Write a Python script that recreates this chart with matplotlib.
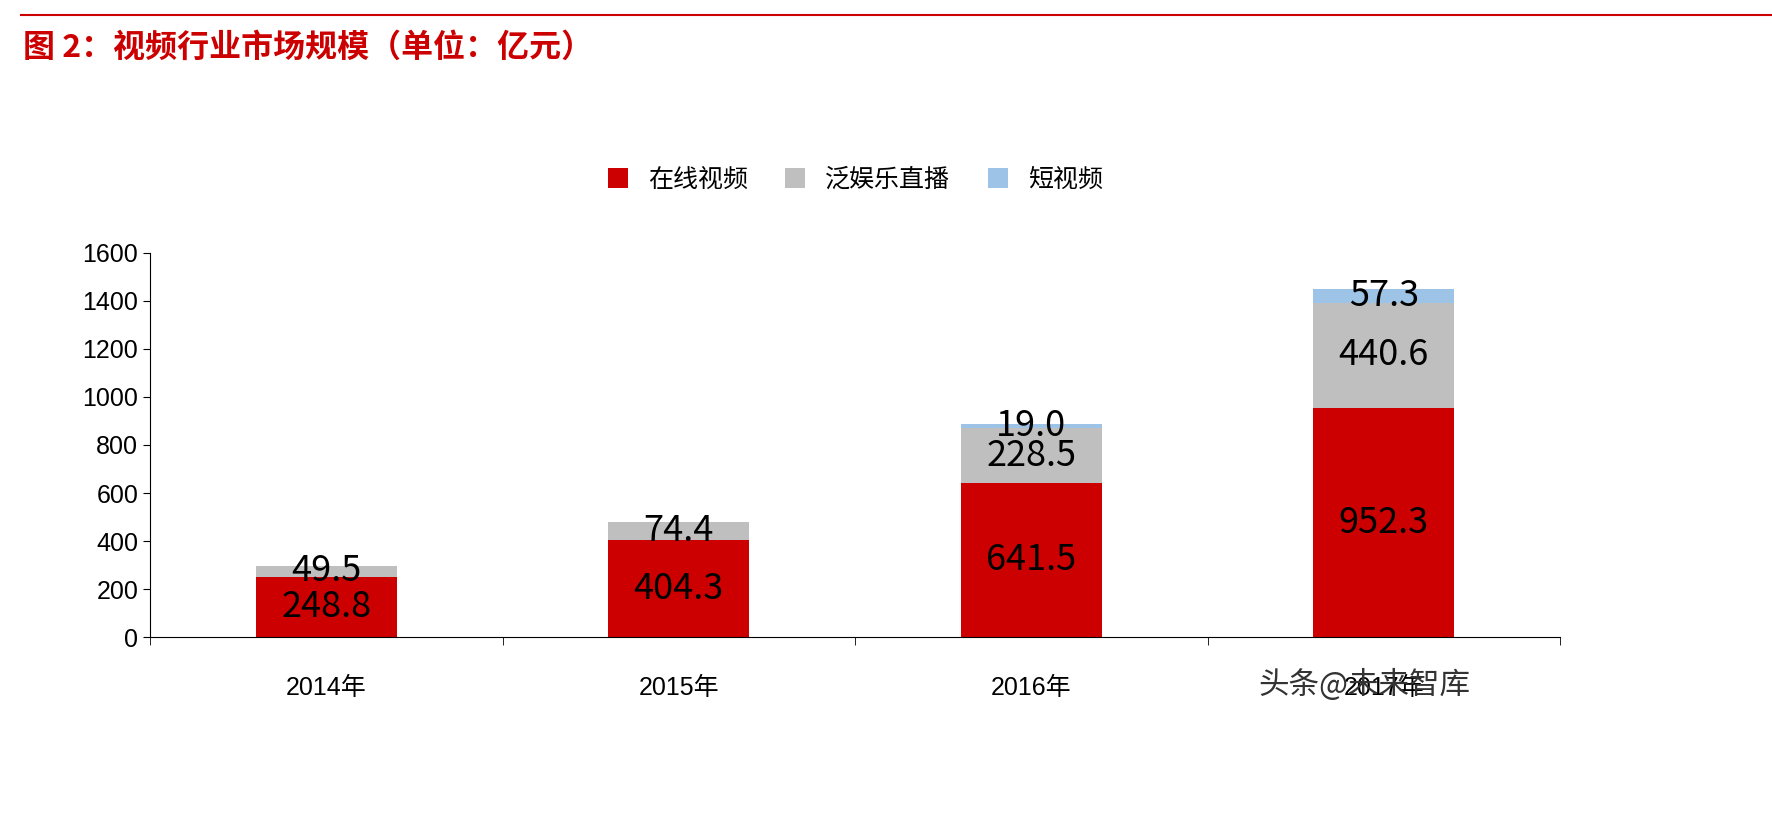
import matplotlib
matplotlib.use('Agg')
import matplotlib.pyplot as plt
import numpy as np

plt.rcParams['font.family'] = ['Liberation Sans', 'Noto Sans CJK SC', 'DejaVu Sans']

years = ['2014年', '2015年', '2016年', '2017年']
online = [248.8, 404.3, 641.5, 952.3]
live = [49.5, 74.4, 228.5, 440.6]
short = [0, 0, 19.0, 57.3]
names = ['在线视频', '泛娱乐直播', '短视频']
colors = ['#cc0000', '#bfbfbf', '#9dc3e6']

fig = plt.figure(figsize=(17.72, 8.18), dpi=100)
fig.add_artist(plt.Line2D([0.012, 1.0], [0.982, 0.982], color='#cc0000', lw=1.5))
fig.text(0.013, 0.942, '图 2：视频行业市场规模（单位：亿元）', color='#cc0000', fontsize=23,
         fontweight='bold', family=['Noto Sans CJK SC'], va='center')

ax = fig.add_axes([0.0847, 0.221, 0.7957, 0.47])
x = np.arange(len(years))
w = 0.4
bottom = np.zeros(len(years))
for vals, name, c in zip([online, live, short], names, colors):
    vals = np.array(vals)
    ax.bar(x, vals, w, bottom=bottom, color=c, label=name)
    for xi, b, v in zip(x, bottom, vals):
        if v > 0:
            ax.text(xi, b + v / 2, '%.1f' % v, ha='center', va='center', fontsize=26,
                    family=['Noto Sans CJK SC'])
    bottom += vals

ax.set_xlim(-0.5, 3.5)
ax.set_ylim(0, 1600)
ax.set_yticks(range(0, 1601, 200))
ax.set_xticks(x)
ax.set_xticklabels(years, fontsize=18, family=['Liberation Sans', 'Noto Sans CJK SC'])
ax.tick_params(axis='x', length=0, pad=28)
ax.set_xticks(np.arange(-0.5, 3.6, 1), minor=True)
ax.tick_params(axis='x', which='minor', length=6, direction='out')
ax.tick_params(axis='y', labelsize=18, length=5)
for s in ['top', 'right']:
    ax.spines[s].set_visible(False)
ax.legend(loc='center', bbox_to_anchor=(0.5, 1.19), ncol=3, frameon=False,
          handlelength=0.8, handleheight=0.8, columnspacing=1.5,
          prop={'family': 'Noto Sans CJK SC', 'size': 18})

fig.text(0.71, 0.163, '头条@未来智库', fontsize=22, color='#333333', family=['Noto Sans CJK SC'],
         va='center')
fig.savefig('out.png', dpi=100)
